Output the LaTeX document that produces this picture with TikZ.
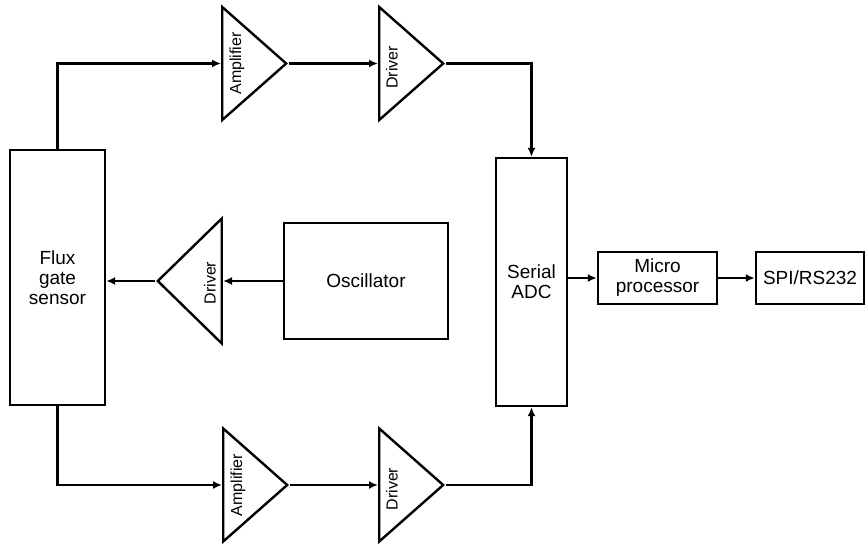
\documentclass[tikz,border=0pt]{standalone}
\usepackage{fontspec}
\setmainfont{Liberation Sans}
\usetikzlibrary{positioning,arrows.meta,shapes.geometric}

\begin{document}
\begin{tikzpicture}[
  x=1pt, y=-1pt,
  every node/.style={font=\fontsize{19}{20}\selectfont},
  box/.style={
    rectangle, draw, line width=2.4pt, align=center, inner sep=0pt
  },
  amp/.style={
    isosceles triangle, isosceles triangle stretches, draw, line width=2.4pt,
    inner sep=0pt, minimum height=64pt, minimum width=113pt
  },
  vlabel/.style={rotate=90, font=\fontsize{16}{16}\selectfont, inner sep=0pt},
  arrow/.style={-{Latex[length=9pt,width=8pt]}, line width=2.4pt}
]
\useasboundingbox (0,0) rectangle (867,545);

% sensor and excitation
\node[box, minimum width=95pt, minimum height=255pt] (flux) at (57.5,277.5) {Flux\\gate\\sensor};
\node[box, minimum width=164pt, minimum height=116pt] (osc) at (366,281) {Oscillator};
\node[amp, shape border rotate=180, minimum width=125pt, anchor=east] (drv0) at (223,281) {};
\node[vlabel] (drv0txt) at ([xshift=-13pt,yshift=-2pt]drv0.east) {Driver};

% upper channel
\node[amp, anchor=west] (amp1) at (221,63.5) {};
\node[amp, anchor=west] (drv1) at (378,63.5) {};
\node[vlabel] (amp1txt) at ([xshift=16pt]amp1.west) {Amplifier};
\node[vlabel] (drv1txt) at ([xshift=14pt,yshift=-4pt]drv1.west) {Driver};

% lower channel
\node[amp, anchor=west] (amp2) at (222,485) {};
\node[amp, anchor=west] (drv2) at (378,485) {};
\node[vlabel] (amp2txt) at ([xshift=16pt]amp2.west) {Amplifier};
\node[vlabel] (drv2txt) at ([xshift=14pt,yshift=-4pt]drv2.west) {Driver};

% conversion and output
\node[box, minimum width=71pt, minimum height=248pt] (adc) at (531.5,282) {Serial\\ADC};
\node[box, minimum width=119pt, minimum height=52pt] (micro) at (657.5,278) {Micro\\processor};
\node[box, minimum width=108pt, minimum height=52pt] (spi) at (810,278) {SPI/RS232};

\draw[arrow] (flux.north) |- (amp1.west);
\draw[arrow] (amp1.apex) -- (drv1.west);
\draw[arrow] (drv1.apex) -| (adc.north);

\draw[arrow] (flux.south) |- (amp2.west);
\draw[arrow] (amp2.apex) -- (drv2.west);
\draw[arrow] (drv2.apex) -| (adc.south);

\draw[arrow] (osc.west) -- (drv0.east);
\draw[arrow] (drv0.apex) -- (drv0.apex -| flux.east);

\draw[arrow] (adc.east |- micro.west) -- (micro.west);
\draw[arrow] (micro) -- (spi);
\end{tikzpicture}
\end{document}
